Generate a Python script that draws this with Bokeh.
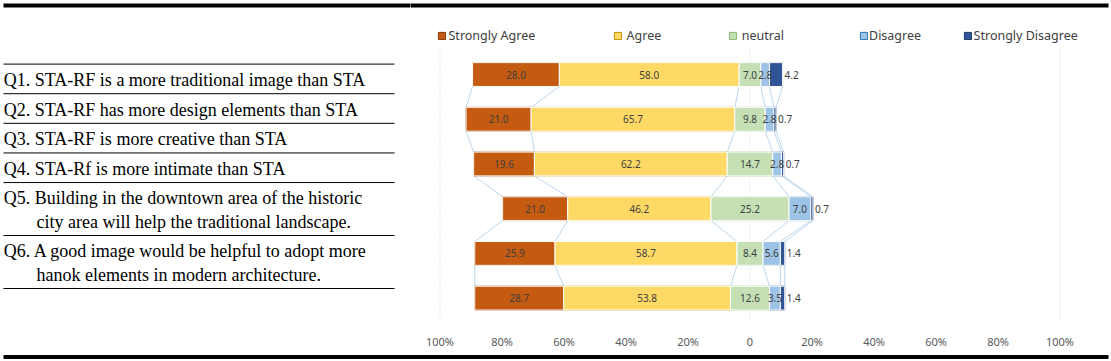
from bokeh.plotting import figure
from bokeh.layouts import column, row
from bokeh.models import Range1d, FixedTicker, Legend, LegendItem
from bokeh.core.properties import value
from bokeh.embed import file_html
from bokeh.resources import INLINE

# ---------------- data ----------------
questions = [
    "Q1. STA-RF is a more traditional image than STA",
    "Q2. STA-RF has more design elements than STA",
    "Q3. STA-RF is more creative than STA",
    "Q4. STA-Rf is more intimate than STA",
    "Q5. Building in the downtown area of the historic\ncity area will help the traditional landscape.",
    "Q6. A good image would be helpful to adopt more\nhanok elements in modern architecture.",
]
categories = ["Strongly Agree", "Agree", "neutral", "Disagree", "Strongly Disagree"]
strongly_agree = [28.0, 21.0, 19.6, 21.0, 25.9, 28.7]
agree = [58.0, 65.7, 62.2, 46.2, 58.7, 53.8]
neutral = [7.0, 9.8, 14.7, 25.2, 8.4, 12.6]
disagree = [2.8, 2.8, 2.8, 7.0, 5.6, 3.5]
strongly_disagree = [4.2, 0.7, 0.7, 0.7, 1.4, 1.4]
tick_values = [-100, -80, -60, -40, -20, 0, 20, 40, 60, 80, 100]
tick_labels = ["100%", "80%", "60%", "40%", "20%", "0", "20%", "40%", "60%", "80%", "100%"]
grid_values = [-100, 0, 100]

# ---------------- style / layout ----------------
fills = ["#C55A11", "#FFD966", "#C5E0B4", "#9DC3E6", "#2F5597"]
borders = ["#843C0C", "#BF9000", "#8FB873", "#2E75B6", "#1F3864"]
FONT_NAME = "Noto Sans"
LABEL_FONT = value(FONT_NAME)
SERIF = value("Liberation Serif")

TOTAL_W = 1110
LEFT_W = 410
RIGHT_W = TOTAL_W - LEFT_W
MAIN_H = 351         # screen 0..351
BOT_H = 9            # screen 351..360 (rule at 351.5..355.5)
FRAME_BOTTOM = 322   # screen y of frame bottom
CAT_TOP = 52         # screen y where the category band starts
BORDER_BOTTOM = MAIN_H - FRAME_BOTTOM
RULE_TOP, RULE_BOT = 3, 7
PX_PER_PCT = 3.1
ZERO_PX = 749.5 - LEFT_W
BAR_H = 0.533
CLEAR = dict(border_fill_color=None, background_fill_color=None,
             outline_line_color=None, toolbar_location=None, output_backend="svg")

# bottom rule (separate strip below the axis labels)
bottom_rule = figure(width=TOTAL_W, height=BOT_H, x_range=Range1d(0, TOTAL_W), y_range=Range1d(BOT_H, 0),
                     x_axis_type=None, y_axis_type=None, min_border=0, **CLEAR)
bottom_rule.quad(left=[3], right=[1108], top=[0.5], bottom=[4.5], fill_color="black", line_color=None)

# ---------------- left table (screen-like coordinates) ----------------
p1 = figure(width=LEFT_W, height=MAIN_H, x_range=Range1d(0, LEFT_W),
            y_range=Range1d(FRAME_BOTTOM, 0),
            x_axis_location=None, y_axis_location=None,
            min_border_left=0, min_border_right=0, min_border_top=0,
            min_border_bottom=BORDER_BOTTOM, **CLEAR)
p1.grid.visible = False
p1.quad(left=[3], right=[LEFT_W + 4], top=[RULE_TOP], bottom=[RULE_BOT], fill_color="black", line_color=None)

TABLE_TOP = 64.0
ROW1 = 29.8
LINE_STEP = 23.5
FIRST_OFF = 16.0
TEXT_X = 3.3
INDENT = 32.7

y = TABLE_TOP
rule_y = [y]
tx, ty, tt = [], [], []
for q in questions:
    lines = q.split("\n")
    for k, ln in enumerate(lines):
        tx.append(TEXT_X + (INDENT if k > 0 else 0))
        ty.append(y + FIRST_OFF + k * LINE_STEP)
        tt.append(ln)
    y += ROW1 + LINE_STEP * (len(lines) - 1)
    rule_y.append(y)

p1.segment(x0=[3] * len(rule_y), x1=[394] * len(rule_y), y0=rule_y, y1=rule_y,
           line_color="black", line_width=1)
p1.text(x=tx, y=ty, text=tt, text_font=SERIF, text_font_size="18px",
        text_color="black", text_baseline="middle", text_align="left")

# ---------------- right chart ----------------
n = len(questions)
unit_px = (FRAME_BOTTOM - CAT_TOP) / n
x0 = -ZERO_PX / PX_PER_PCT
x1 = (RIGHT_W - ZERO_PX) / PX_PER_PCT
x_rule_end = (1108 - LEFT_W - ZERO_PX) / PX_PER_PCT
y_bottom = n - 0.5
y_top = -0.5 - CAT_TOP / unit_px
p2 = figure(width=RIGHT_W, height=MAIN_H, x_range=Range1d(x0, x1),
            y_range=Range1d(y_bottom, y_top),
            y_axis_location=None, min_border_left=0, min_border_right=0,
            min_border_top=0, min_border_bottom=BORDER_BOTTOM, **CLEAR)
p2.grid.visible = False
# top rule continues across the chart
p2.quad(left=[x0 - 4 / PX_PER_PCT], right=[x_rule_end], top=[y_top + RULE_TOP / unit_px],
        bottom=[y_top + RULE_BOT / unit_px], fill_color="black", line_color=None)

ax = p2.xaxis[0]
ax.ticker = FixedTicker(ticks=tick_values)
ax.major_label_overrides = {v: lab for v, lab in zip(tick_values, tick_labels)}
ax.axis_line_color = None
ax.major_tick_line_color = None
ax.minor_tick_line_color = None
ax.major_tick_out = 0
ax.major_tick_in = 0
ax.major_label_standoff = 13
ax.major_label_text_font = FONT_NAME
ax.major_label_text_font_size = "11px"
ax.major_label_text_color = "#595959"

# dotted vertical gridlines over the bar band
p2.segment(x0=grid_values, x1=grid_values, y0=[y_bottom] * len(grid_values),
           y1=[-0.6] * len(grid_values), line_color="#C9D7E6", line_dash="1 2", line_width=1)

idx = list(range(n))
series = [strongly_agree, agree, neutral, disagree, strongly_disagree]

# segment boundaries (neutral centred on zero)
lefts = [[0.0] * n for _ in range(5)]
rights = [[0.0] * n for _ in range(5)]
for i in range(n):
    half = neutral[i] / 2.0
    rights[1][i] = -half
    lefts[1][i] = -half - agree[i]
    rights[0][i] = lefts[1][i]
    lefts[0][i] = lefts[1][i] - strongly_agree[i]
    lefts[2][i] = -half
    rights[2][i] = half
    lefts[3][i] = half
    rights[3][i] = half + disagree[i]
    lefts[4][i] = rights[3][i]
    rights[4][i] = rights[3][i] + strongly_disagree[i]

# connector lines between consecutive bars
bounds = [lefts[0], lefts[1], lefts[2], lefts[3], lefts[4], rights[4]]
cx0, cy0, cx1, cy1 = [], [], [], []
for b in bounds:
    for i in range(n - 1):
        cx0.append(b[i]); cy0.append(i + BAR_H / 2)
        cx1.append(b[i + 1]); cy1.append(i + 1 - BAR_H / 2)
p2.segment(x0=cx0, y0=cy0, x1=cx1, y1=cy1, line_color="#BDD7EE", line_width=1)

# legend key renderers: same bars with a darker outline, drawn underneath
key_renderers = []
for s in range(5):
    key_renderers.append(p2.hbar(y=idx, left=lefts[s], right=rights[s], height=BAR_H,
                                 fill_color=fills[s], line_color=borders[s], line_width=1))
for s in range(5):
    p2.hbar(y=idx, left=lefts[s], right=rights[s], height=BAR_H,
            fill_color=fills[s], line_color="white", line_width=1)

for s in range(4):
    mids = [(lefts[s][i] + rights[s][i]) / 2 for i in range(n)]
    p2.text(x=mids, y=idx, text=["%.1f" % v for v in series[s]],
            text_align="center", text_baseline="middle", text_font=LABEL_FONT,
            text_font_size="10px", text_color="#404040")
p2.text(x=rights[4], y=idx, text=["%.1f" % v for v in strongly_disagree], x_offset=2,
        text_align="left", text_baseline="middle", text_font=LABEL_FONT,
        text_font_size="10px", text_color="#404040")

# legend: one small legend per category, spaced as in the source
LEG_H = 17
LEG_CENTER = 37
legend_x = [26.5, 202.6, 317.8, 449, 552.6]
legend_standoff = [3, 5, 5, 1, 2]
leg_y = FRAME_BOTTOM - (LEG_CENTER + LEG_H / 2)
for s in range(5):
    leg = Legend(items=[LegendItem(label=categories[s], renderers=[key_renderers[s]])],
                 location=(legend_x[s], leg_y), orientation="horizontal",
                 padding=0, margin=0, spacing=0, border_line_color=None,
                 background_fill_alpha=0, glyph_width=9, glyph_height=9,
                 label_standoff=legend_standoff[s], label_height=LEG_H,
                 label_text_font=FONT_NAME, label_text_font_size="12.5px",
                 label_text_color="#404040")
    p2.add_layout(leg, "center")

layout = column(row(p1, p2), bottom_rule)
open("out.html", "w").write(file_html(layout, INLINE))
